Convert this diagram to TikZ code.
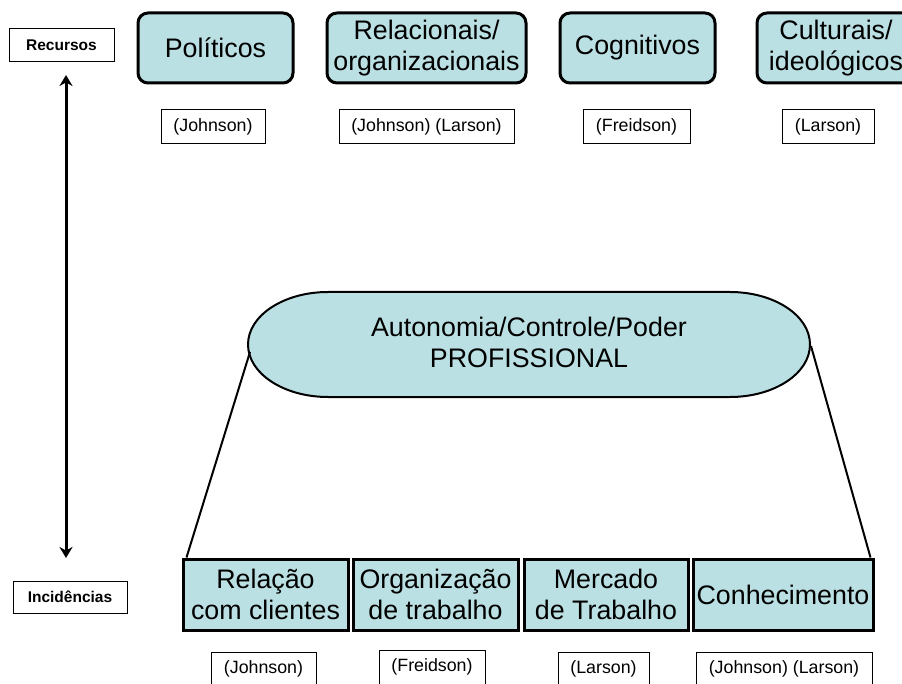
\documentclass[tikz,border=0pt]{standalone}
\usepackage{fontspec}
\setmainfont{Liberation Sans}
\usetikzlibrary{arrows.meta}
\definecolor{boxfill}{RGB}{187,224,227}
\tikzset{
  mainfont/.style={font=\fontsize{26.8}{31}\selectfont},
  topbox/.style={draw, line width=3pt, fill=boxfill, rounded corners=10pt, minimum height=70pt, inner sep=0pt, align=center, mainfont},
  botbox/.style={draw, line width=3pt, fill=boxfill, minimum height=71pt, inner sep=0pt, align=center, mainfont},
  refbox/.style={draw, line width=1pt, minimum height=34pt, inner sep=0pt, font=\fontsize{17.8}{20}\selectfont},
  labbox/.style={draw, line width=1pt, inner sep=0pt, font=\fontsize{15.5}{18}\selectfont\bfseries},
  conn/.style={line width=2pt},
}
\begin{document}
\begin{tikzpicture}[x=1pt,y=-1pt]
\useasboundingbox (0,0) rectangle (902,684);
% labels
\node[labbox, minimum width=105pt, minimum height=33pt] (rec) at (61.5,45.5) {Recursos};
\node[labbox, minimum width=114pt, minimum height=32pt] (inc) at (70,597) {Incidências};
\coordinate (atop) at (66,75);
\coordinate (abot) at (66,558);
\draw[line width=3pt, {Stealth[length=11pt,width=13pt]}-{Stealth[length=11pt,width=13pt]}] (atop) -- (abot);
% top boxes
\node[topbox, minimum width=155pt] (pol) at (215.5,48) {Políticos};
\node[topbox, minimum width=199pt] (rel) at (426.5,48) {Relacionais/\\organizacionais};
\node[topbox, minimum width=155pt] (cog) at (637.5,48) {Cognitivos};
\node[topbox, minimum width=158pt] (cul) at (836,48) {Culturais/\\ideológicos};
% top references
\node[refbox, minimum width=104pt] (r1) at (213,127) {(Johnson)};
\node[refbox, minimum width=175pt] (r2) at (426.5,127) {(Johnson) (Larson)};
\node[refbox, minimum width=107pt] (r3) at (636.5,127) {(Freidson)};
\node[refbox, minimum width=92pt] (r4) at (828,127) {(Larson)};
% central stadium
\draw[line width=2pt, fill=boxfill] (328,292) -- (730,292)
  arc[start angle=-90, end angle=90, x radius=80, y radius=52.5]
  -- (328,397)
  arc[start angle=90, end angle=270, x radius=80, y radius=52.5] -- cycle;
\node[align=center, mainfont] (poder) at (529,342) {Autonomia/Controle/Poder\\PROFISSIONAL};
\coordinate (sl) at (250,352);
\coordinate (sr) at (811,346);
% bottom boxes
\node[botbox, minimum width=165pt] (b1) at (265.5,594.5) {Relação\\com clientes};
\node[botbox, minimum width=165pt] (b2) at (435.5,594.5) {Organização\\de trabalho};
\node[botbox, minimum width=164pt] (b3) at (606,594.5) {Mercado\\de Trabalho};
\node[botbox, minimum width=180pt] (b4) at (783,594.5) {Conhecimento};
\draw[conn] (sl) -- ([xshift=5pt]b1.north west);
\draw[conn] (sr) -- ([xshift=-4pt]b4.north east);
% bottom references
\node[refbox, minimum width=105pt] (s1) at (263.5,669) {(Johnson)};
\node[refbox, minimum width=106pt] (s2) at (432,667) {(Freidson)};
\node[refbox, minimum width=91pt] (s3) at (603.5,669) {(Larson)};
\node[refbox, minimum width=176pt] (s4) at (784,669) {(Johnson) (Larson)};
\end{tikzpicture}
\end{document}
